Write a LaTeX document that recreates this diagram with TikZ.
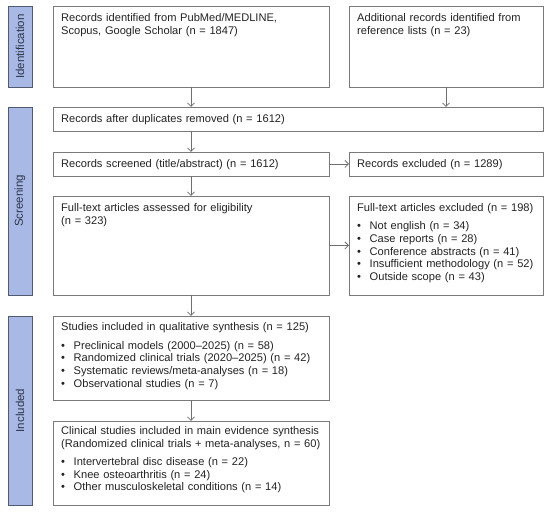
\documentclass[tikz,border=0pt]{standalone}
\usepackage{fontspec}
\setmainfont{Liberation Sans}
\usetikzlibrary{arrows.meta}
\definecolor{barfill}{HTML}{A9B9E6}
\definecolor{barline}{HTML}{505A70}
\definecolor{boxline}{HTML}{7A7A7A}
\definecolor{arrowc}{HTML}{6E6E6E}
\definecolor{txt}{HTML}{222222}
\definecolor{bartxt}{HTML}{2E3548}
\newcommand\bul{\makebox[12.5pt][l]{\textbullet}}
\begin{document}
\begin{tikzpicture}[x=1pt,y=-1pt,
 box/.style={draw=boxline, line width=0.9pt, anchor=north west, inner sep=0pt, outer sep=0pt},
 bar/.style={draw=barline, fill=barfill, line width=0.9pt, anchor=north west, inner sep=0pt, outer sep=0pt, minimum width=24pt},
 bartext/.style={rotate=90, font=\fontsize{11.5}{13}\selectfont, text=bartxt},
 body/.style={anchor=base west, text width=330pt, align=left, inner sep=0pt, font=\fontsize{11.1}{12.6}\selectfont, text=txt},
 arr/.style={draw=arrowc, line width=0.8pt, -{Straight Barb[length=3.5pt,width=7pt]}}]
\useasboundingbox (0,0) rectangle (550,513);
% side bars
\node[bar, minimum height=81pt] (idbar) at (8,6) {};
\node[bartext] (idlab) at (idbar.center) {Identification};
\node[bar, minimum height=188pt] (scbar) at (8,107) {};
\node[bartext] (sclab) at (scbar.center) {Screening};
\node[bar, minimum height=189pt] (inbar) at (8,316) {};
\node[bartext] (inlab) at (inbar.center) {Included};
% boxes
\node[box, minimum width=276pt, minimum height=81pt] (b1) at (53,6) {};
\node[box, minimum width=194pt, minimum height=81pt] (b2) at (349,6) {};
\node[box, minimum width=490pt, minimum height=24pt] (dup) at (53,107) {};
\node[box, minimum width=276pt, minimum height=24pt] (scr) at (53,152) {};
\node[box, minimum width=194pt, minimum height=24pt] (exc) at (349,152) {};
\node[box, minimum width=276pt, minimum height=99pt] (ft) at (53,196) {};
\node[box, minimum width=194pt, minimum height=99pt] (fte) at (349,196) {};
\node[box, minimum width=276pt, minimum height=84pt] (inc) at (53,316) {};
\node[box, minimum width=276pt, minimum height=84pt] (cli) at (53,421) {};
% texts
\node[body] (b1t) at ([xshift=8pt,yshift=-16pt]b1.north west) {Records identified from PubMed/MEDLINE,\\Scopus, Google Scholar (n = 1847)};
\node[body] (b2t) at ([xshift=8pt,yshift=-16pt]b2.north west) {Additional records identified from\\reference lists (n = 23)};
\node[body] (dupt) at ([xshift=8pt,yshift=-16pt]dup.north west) {Records after duplicates removed (n = 1612)};
\node[body] (scrt) at ([xshift=8pt,yshift=-16pt]scr.north west) {Records screened (title/abstract) (n = 1612)};
\node[body] (exct) at ([xshift=8pt,yshift=-16pt]exc.north west) {Records excluded (n = 1289)};
\node[body] (ftt) at ([xshift=8pt,yshift=-16pt]ft.north west) {Full-text articles assessed for eligibility\\(n = 323)};
\node[body] (ftet) at ([xshift=8pt,yshift=-16pt]fte.north west) {Full-text articles excluded (n = 198)\\[5.3pt]
\bul Not english (n = 34)\\
\bul Case reports (n = 28)\\
\bul Conference abstracts (n = 41)\\
\bul Insufficient methodology (n = 52)\\
\bul Outside scope (n = 43)};
\node[body] (inct) at ([xshift=8pt,yshift=-15pt]inc.north west) {Studies included in qualitative synthesis (n = 125)\\[5.8pt]
\bul Preclinical models (2000–2025) (n = 58)\\
\bul Randomized clinical trials (2020–2025) (n = 42)\\
\bul Systematic reviews/meta-analyses (n = 18)\\
\bul Observational studies (n = 7)};
\node[body] (clit) at ([xshift=8pt,yshift=-13.5pt]cli.north west) {Clinical studies included in main evidence synthesis\\
(Randomized clinical trials + meta-analyses, n = 60)\\[5.8pt]
\bul Intervertebral disc disease (n = 22)\\
\bul Knee osteoarthritis (n = 24)\\
\bul Other musculoskeletal conditions (n = 14)};
% arrows
\draw[arr] (b1.south) -- (b1.south |- dup.north);
\draw[arr] (b2.south) -- (b2.south |- dup.north);
\draw[arr] (dup.south -| scr.north) -- (scr.north);
\draw[arr] (scr.east) -- (exc.west);
\draw[arr] (scr.south) -- (ft.north);
\draw[arr] (ft.east) -- (fte.west);
\draw[arr] (ft.south) -- (inc.north);
\draw[arr] (inc.south) -- (cli.north);
\end{tikzpicture}
\end{document}
